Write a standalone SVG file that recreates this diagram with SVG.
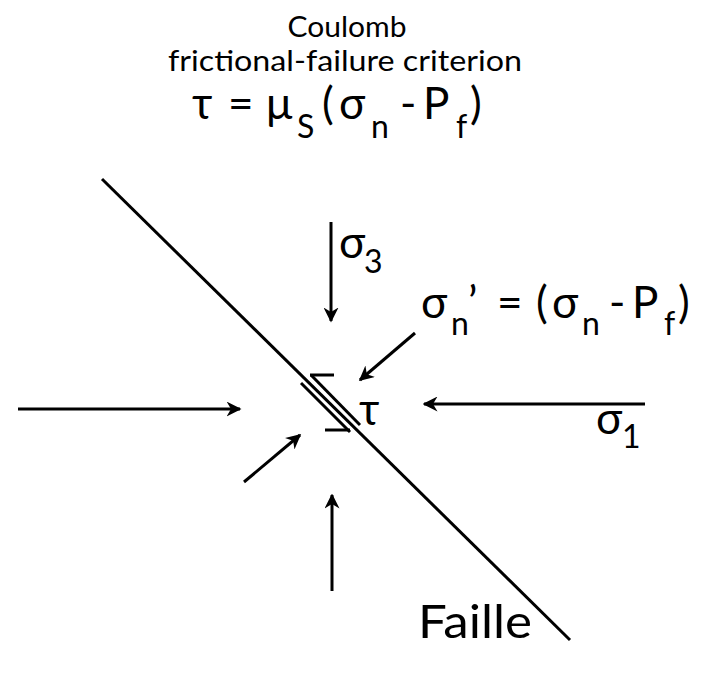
<svg xmlns="http://www.w3.org/2000/svg" width="720" height="688" viewBox="0 0 720 688">
<defs>
<marker id="ah" viewBox="0 0 10 10" refX="9" refY="5" markerWidth="5" markerHeight="5" orient="auto" markerUnits="strokeWidth">
<path d="M0,0 L10,5 L0,10 L3,5 z" fill="#000"/>
</marker>
<style>
.ln{stroke:#000;stroke-width:3;fill:none}
.ar{stroke:#000;stroke-width:3;fill:none;marker-end:url(#ah)}
text{font-family:Lato,"Liberation Sans",sans-serif;fill:#000}
.t1{font-size:29px}
.t2{font-size:44px}
.sb{font-size:32px}
</style>
</defs>
<rect width="720" height="688" fill="#fff"/>
<g id="title">
<text class="t1" x="347" y="37" text-anchor="middle" textLength="119" lengthAdjust="spacingAndGlyphs">Coulomb</text>
<text class="t1" x="345" y="71" text-anchor="middle" textLength="354" lengthAdjust="spacingAndGlyphs">frictional-failure criterion</text>
<text class="t2" y="119"><tspan x="192">τ</tspan><tspan x="228">=</tspan><tspan x="266">μ</tspan><tspan x="297" y="138" class="sb">S</tspan><tspan x="322" y="119">(</tspan><tspan x="339">σ</tspan><tspan x="371" y="138" class="sb">n</tspan><tspan x="400" y="119">-</tspan><tspan x="423">P</tspan><tspan x="456" y="138" class="sb">f</tspan><tspan x="470" y="119">)</tspan></text>
</g>
<g id="fault">
<line class="ln" x1="102" y1="179" x2="570" y2="640"/>
<line class="ln" x1="311" y1="375" x2="360" y2="425"/>
<line class="ln" x1="301" y1="383" x2="350" y2="432"/>
<line class="ln" x1="310" y1="375" x2="334" y2="375"/>
<line class="ln" x1="325" y1="430" x2="350" y2="430"/>
<text class="t2" x="418" y="638" style="font-size:46px" textLength="114" lengthAdjust="spacingAndGlyphs">Faille</text>
</g>
<g id="connectors">
<line class="ar" x1="18" y1="409" x2="240" y2="409"/>
<line class="ar" x1="645" y1="404" x2="424" y2="404"/>
<line class="ar" x1="331" y1="222" x2="331" y2="321"/>
<line class="ar" x1="332" y1="591" x2="332" y2="495"/>
<line class="ar" x1="415" y1="333" x2="360" y2="380"/>
<line class="ar" x1="244" y1="482" x2="300" y2="435"/>
</g>
<g id="sigma3"><text class="t2" x="339" y="258">σ<tspan class="sb" x="364" y="273">3</tspan></text></g>
<g id="sigman"><text class="t2" y="318"><tspan x="421">σ</tspan><tspan class="sb" x="451" y="335">n</tspan><tspan x="468" y="318">’</tspan><tspan x="497">=</tspan><tspan x="536">(</tspan><tspan x="552">σ</tspan><tspan class="sb" x="582" y="335">n</tspan><tspan x="609" y="318">-</tspan><tspan x="632">P</tspan><tspan class="sb" x="664" y="335">f</tspan><tspan x="678" y="318">)</tspan></text></g>
<g id="tau"><text class="t2" x="359" y="425">τ</text></g>
<g id="sigma1"><text class="t2" x="596" y="434">σ<tspan class="sb" x="622" y="448">1</tspan></text></g>
</svg>
